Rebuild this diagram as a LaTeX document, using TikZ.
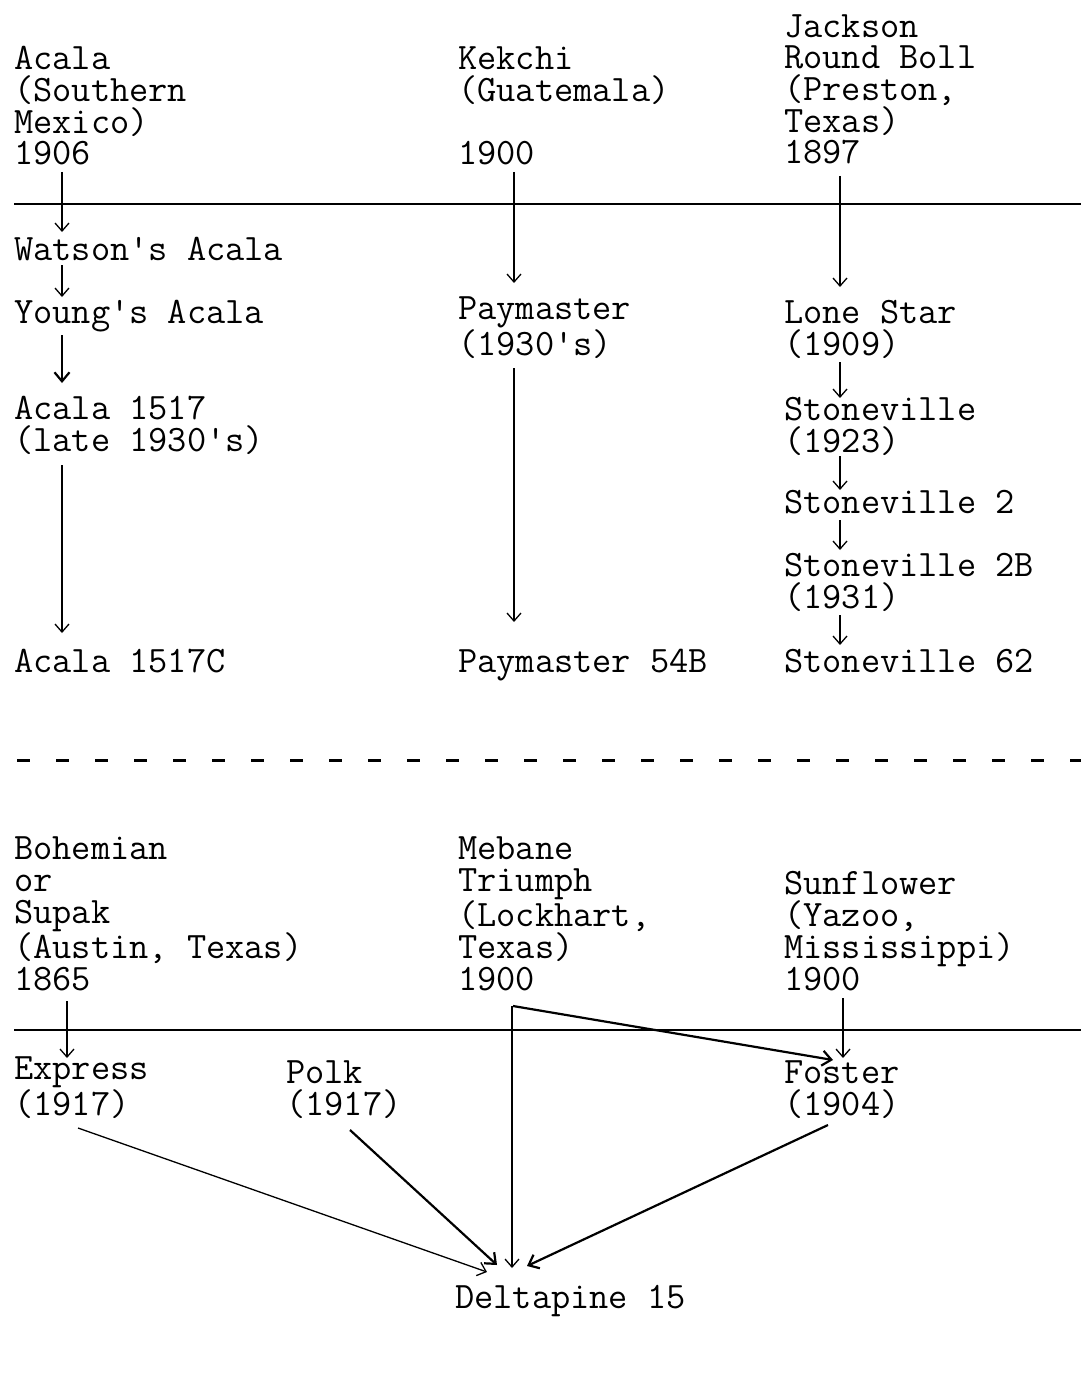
\documentclass[tikz,border=0pt]{standalone}
\usepackage{fontspec}
\usetikzlibrary{arrows.meta,calc}
\begin{document}
\begin{tikzpicture}[x=1pt,y=-1pt,
  lbl/.style={anchor=base west,inner sep=0pt,align=left,
    font=\ttfamily\fontsize{37.3}{31.7}\selectfont},
  arr/.style={line width=1.3pt,-{Straight Barb[length=8pt,width=14pt,line width=1.3pt]}},
  thickarr/.style={line width=2.2pt,-{Straight Barb[length=9pt,width=15pt,line width=2.2pt]}},
  rule/.style={line width=2.2pt}]
\useasboundingbox (0,0) rectangle (1081,1375);
\fill[white] (0,0) rectangle (1081,1375);

% --- upper section (node base = last line's baseline) ---
\node[lbl] (acala) at (14,165) {Acala\\(Southern\\Mexico)\\1906};
\node[lbl] (kekchi) at (458,165) {Kekchi\\(Guatemala)\\~\\1900};
\node[lbl] (jackson) at (784,164) {Jackson\\Round Boll\\(Preston,\\Texas)\\1897};
\draw[rule] (14,204) -- (1081,204);
\node[lbl] (watson) at (14,260) {Watson's Acala};
\node[lbl] (youngs) at (14,323) {Young's Acala};
\node[lbl] (acala1517) at (14,451) {Acala 1517\\(late 1930's)};
\node[lbl] (acalac) at (14,672) {Acala 1517C};
\node[lbl] (paymaster) at (458,355) {Paymaster\\(1930's)};
\node[lbl] (pay54) at (458,672) {Paymaster 54B};
\node[lbl] (lonestar) at (784,355) {Lone Star\\(1909)};
\node[lbl] (stone) at (784,452) {Stoneville\\(1923)};
\node[lbl] (stone2) at (784,513) {Stoneville 2};
\node[lbl] (stone2b) at (784,608) {Stoneville 2B\\(1931)};
\node[lbl] (stone62) at (784,672) {Stoneville 62};

\draw[arr] ($(acala.base west)+(48,7)$) -- ($(watson.base west)+(48,-28)$);
\draw[arr] ($(watson.base west)+(48,5)$) -- ($(youngs.base west)+(48,-26)$);
\draw[thickarr] ($(youngs.base west)+(48,12)$) -- ($(acala1517.base west)+(48,-68)$);
\draw[arr] ($(acala1517.base west)+(48,14)$) -- ($(acalac.base west)+(48,-39)$);
\draw[arr] ($(kekchi.base west)+(56,7)$) -- ($(paymaster.base west)+(56,-72)$);
\draw[arr] ($(paymaster.base west)+(56,13)$) -- ($(pay54.base west)+(56,-50)$);
\draw[arr] ($(jackson.base west)+(56,12)$) -- ($(lonestar.base west)+(56,-68)$);
\draw[arr] ($(lonestar.base west)+(56,7)$) -- ($(stone.base west)+(56,-54)$);
\draw[arr] ($(stone.base west)+(56,4)$) -- ($(stone2.base west)+(56,-23)$);
\draw[arr] ($(stone2.base west)+(56,7)$) -- ($(stone2b.base west)+(56,-58)$);
\draw[arr] ($(stone2b.base west)+(56,7)$) -- ($(stone62.base west)+(56,-27)$);

% --- dashed separator ---
\draw[line width=3pt,dash pattern=on 13pt off 26pt] (17,760) -- (1081,760);

% --- lower section ---
\node[lbl] (bohemian) at (14,990) {Bohemian\\or\\Supak\\(Austin, Texas)\\1865};
\node[lbl] (mebane) at (458,990) {Mebane\\Triumph\\(Lockhart,\\Texas)\\1900};
\node[lbl] (sunflower) at (784,990) {Sunflower\\(Yazoo,\\Mississippi)\\1900};
\draw[rule] (14,1030) -- (1081,1030);
\node[lbl] (express) at (14,1115) {Express\\(1917)};
\node[lbl] (polk) at (286,1115) {Polk\\(1917)};
\node[lbl] (foster) at (784,1115) {Foster\\(1904)};
\node[lbl] (deltapine) at (455,1308) {Deltapine 15};

\draw[arr] ($(bohemian.base west)+(53,11)$) -- ($(express.base west)+(53,-57)$);
\draw[arr] ($(sunflower.base west)+(59,8)$) -- ($(foster.base west)+(59,-57)$);
\draw[thickarr] ($(mebane.base west)+(55,16)$) -- ($(foster.base west)+(49,-55)$);
\draw[arr,line width=1.6pt] ($(mebane.base west)+(54,16)$) -- ($(deltapine.base west)+(57,-40)$);
\draw[arr] ($(express.base west)+(64,13)$) -- ($(deltapine.base west)+(32,-36)$);
\draw[thickarr] ($(polk.base west)+(64,15)$) -- ($(deltapine.base west)+(42,-43)$);
\draw[thickarr] ($(foster.base west)+(44,10)$) -- ($(deltapine.base west)+(72,-42)$);
\end{tikzpicture}
\end{document}
